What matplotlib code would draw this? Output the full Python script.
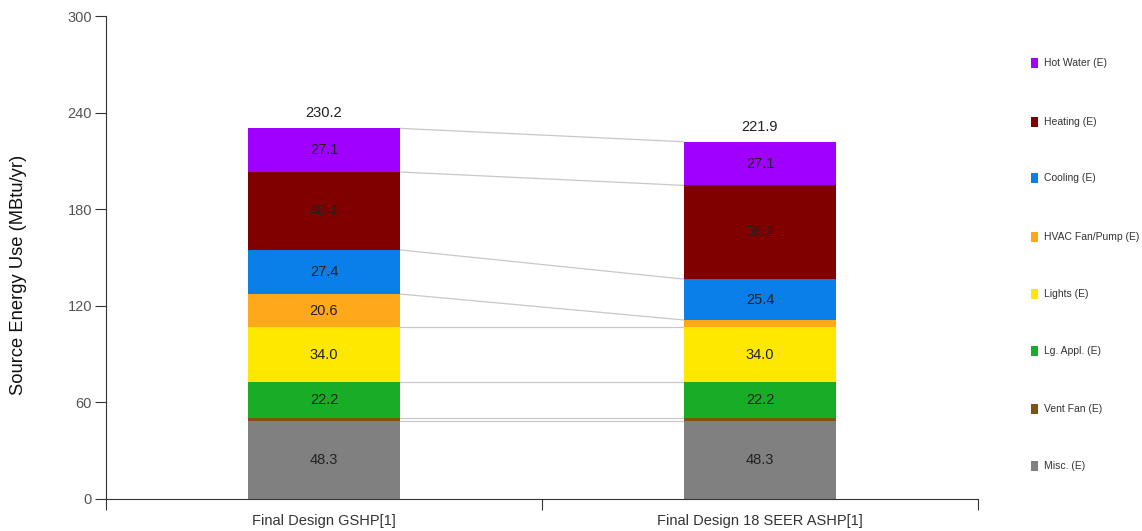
import matplotlib.pyplot as plt
from matplotlib.patches import Rectangle

plt.rcParams['font.family'] = ['Liberation Sans', 'DejaVu Sans']

designs = ['Final Design GSHP[1]', 'Final Design 18 SEER ASHP[1]']
end_uses = ['Misc. (E)', 'Vent Fan (E)', 'Lg. Appl. (E)', 'Lights (E)',
            'HVAC Fan/Pump (E)', 'Cooling (E)', 'Heating (E)', 'Hot Water (E)']
colors = ['#808080', '#7f5312', '#19ad27', '#ffe800',
          '#ffa81a', '#0b7fe9', '#800000', '#a000ff']
gshp = [48.3, 2.2, 22.2, 34.0, 20.6, 27.4, 48.4, 27.1]
ashp = [48.3, 2.2, 22.2, 34.0, 4.5, 25.4, 58.2, 27.1]
totals = [230.2, 221.9]

fig = plt.figure(figsize=(11.42, 5.31), dpi=100)
ax = fig.add_axes([106 / 1142, 32 / 531, 872 / 1142, 483 / 531])

xs = [0.5, 1.5]
width = 0.35
series = [gshp, ashp]
bottoms = []
for xi, vals in zip(xs, series):
    b = 0
    tops = [0]
    for v, c in zip(vals, colors):
        ax.bar(xi, v, width, bottom=b, color=c, edgecolor='none', zorder=2)
        if v > 8:
            ax.text(xi, b + v / 2, f'{v:.1f}', ha='center', va='center',
                    fontsize=10.5, color='#222222', zorder=3)
        b += v
        tops.append(b)
    bottoms.append(tops)

# connector lines between matching segment boundaries
for y1, y2 in zip(bottoms[0][1:], bottoms[1][1:]):
    ax.plot([xs[0] + width / 2, xs[1] - width / 2], [y1, y2],
            color='#c8c8c8', lw=0.9, zorder=1)

for xi, t in zip(xs, totals):
    ax.text(xi, t + 5, f'{t:.1f}', ha='center', va='bottom',
            fontsize=10.5, color='#222222')

ax.set_xlim(0, 2)
ax.set_ylim(0, 300)
ax.set_yticks([0, 60, 120, 180, 240, 300])
ax.set_xticks([0, 1, 2])
ax.set_xticklabels([])
ax.set_xticks(xs, minor=True)
ax.set_xticklabels(designs, minor=True)
ax.tick_params(axis='x', which='minor', length=0, pad=11, labelsize=10.5,
               labelcolor='#333333')
ax.tick_params(axis='x', which='major', length=8, width=0.8, color='#333333')
ax.tick_params(axis='y', length=8, width=0.8, color='#333333', labelsize=10.5,
               labelcolor='#555555', pad=2)
for s in ['top', 'right']:
    ax.spines[s].set_visible(False)
for s in ['left', 'bottom']:
    ax.spines[s].set_color('#333333')
    ax.spines[s].set_linewidth(0.8)

fig.text(19 / 1142, (531 - 275) / 531, 'Source Energy Use (MBtu/yr)',
         rotation=90, ha='center', va='center', fontsize=13.2, color='#111111')

# legend column on the right
legend_y = [466, 409, 351, 294, 237, 178, 122, 63]
for name, c, yp in zip(end_uses, colors, legend_y):
    fig.add_artist(Rectangle((1031 / 1142, (531 - yp - 5) / 531), 7 / 1142,
                             10 / 531, transform=fig.transFigure,
                             color=c, lw=0))
    fig.text(1044 / 1142, (531 - yp) / 531, name, fontsize=7.5,
             va='center', ha='left', color='#333333')

fig.savefig('out.png', dpi=100)
